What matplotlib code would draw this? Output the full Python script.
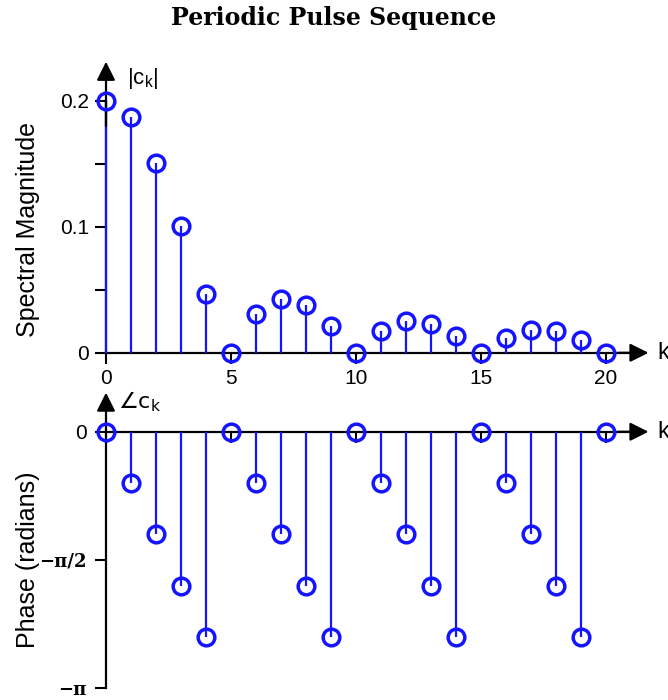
import numpy as np
import matplotlib
matplotlib.use("Agg")
import matplotlib.pyplot as plt

# harmonic index
k = list(range(21))
# |c_k|
mag = [0.200, 0.187, 0.151, 0.101, 0.047, 0.0, 0.031, 0.043, 0.038, 0.021,
       0.0, 0.017, 0.025, 0.023, 0.013, 0.0, 0.012, 0.018, 0.017, 0.010, 0.0]
# phase in units of pi
phase_pi = [0, -0.2, -0.4, -0.6, -0.8, 0, -0.2, -0.4, -0.6, -0.8,
            0, -0.2, -0.4, -0.6, -0.8, 0, -0.2, -0.4, -0.6, -0.8, 0]
mag_ticks = [0, 0.1, 0.2]
mag_labels = ["0", "0.1", "0.2"]
phase_ticks = [0, -np.pi / 2, -np.pi]
phase_labels = ["0", "\u2212\u03c0/2", "\u2212\u03c0"]
k_ticks = [0, 5, 10, 15, 20]

plt.rcParams['font.family'] = ['Liberation Sans', 'DejaVu Sans']
blue = '#1414ff'

fig = plt.figure(figsize=(6.68, 7.0), dpi=100)
ax1 = fig.add_axes([81 / 668, 0.46, 575 / 668, 0.45])
ax2 = fig.add_axes([81 / 668, 0.0103, 575 / 668, 0.437])


def stems(ax, x, y):
    ml, sl, bl = ax.stem(x, y, linefmt='-', markerfmt='o', basefmt=' ')
    plt.setp(sl, color=blue, linewidth=1.6, zorder=3)
    plt.setp(ml, markerfacecolor='none', markeredgecolor=blue,
             markersize=12, markeredgewidth=2.5, zorder=4, clip_on=False)


def setup(ax, ylo, yhi, ytop, ybounds):
    ax.set_xlim(-1, 22)
    ax.set_ylim(ylo, yhi)
    for s in ['top', 'right']:
        ax.spines[s].set_visible(False)
    ax.spines['left'].set_position(('data', 0))
    ax.spines['bottom'].set_position(('data', 0))
    ax.spines['left'].set_bounds(*ybounds)
    ax.spines['bottom'].set_bounds(0, 21)
    ax.spines['left'].set_linewidth(1.6)
    ax.spines['bottom'].set_linewidth(1.6)
    ax.tick_params(direction='out', length=8, width=1.5, labelsize=15, pad=4)
    ax.tick_params(which='minor', direction='out', length=8, width=1.5)
    ap = dict(arrowstyle='-|>', color='k', lw=1.6, mutation_scale=28,
              shrinkA=0, shrinkB=0)
    ax.annotate('', xy=(0, ytop), xytext=(0, ybounds[1] * 0.9 if ybounds[1] else 0),
                arrowprops=ap, annotation_clip=False)
    ax.annotate('', xy=(21.7, 0), xytext=(20.5, 0), arrowprops=ap,
                annotation_clip=False)
    ax.text(22.05, 0, 'k', fontsize=17, va='center', ha='left', clip_on=False)


stems(ax1, k, mag)
setup(ax1, -0.02, 0.23, 0.231, (0, 0.2))
ax1.set_xticks(k_ticks)
ax1.set_xticklabels([str(t) for t in k_ticks])
ax1.set_yticks(mag_ticks)
ax1.set_yticklabels(mag_labels)
ax1.set_yticks([0.05, 0.15], minor=True)
ax1.text(0.85, 0.218, '|c$_\\mathregular{k}$|', fontsize=16, va='center')

phase = [p * np.pi for p in phase_pi]
stems(ax2, k, phase)
setup(ax2, -3.2, 0.55, 0.48, (-np.pi, 0))
ax2.set_xticks(k_ticks)
ax2.set_xticklabels([])
ax2.set_yticks(phase_ticks)
ax2.set_yticklabels(phase_labels)
ax2.tick_params(axis='y', pad=6)
for lab in ax2.get_yticklabels()[1:]:
    lab.set_fontfamily(['DejaVu Serif'])
    lab.set_fontweight('bold')
    lab.set_fontsize(13)
ax2.text(0.5, 0.37, '\u2220c$_\\mathregular{k}$', fontsize=16, va='center',
         family=['DejaVu Sans'])

fig.text(0.042, 1 - 230 / 700, 'Spectral Magnitude', rotation=90,
         ha='center', va='center', fontsize=18)
fig.text(0.042, 1 - 560 / 700, 'Phase (radians)', rotation=90,
         ha='center', va='center', fontsize=18)
fig.suptitle('Periodic Pulse Sequence', y=0.974, va='center',
             fontsize=17, fontweight='bold', family=['DejaVu Serif'])

fig.savefig('out.png', dpi=100)
